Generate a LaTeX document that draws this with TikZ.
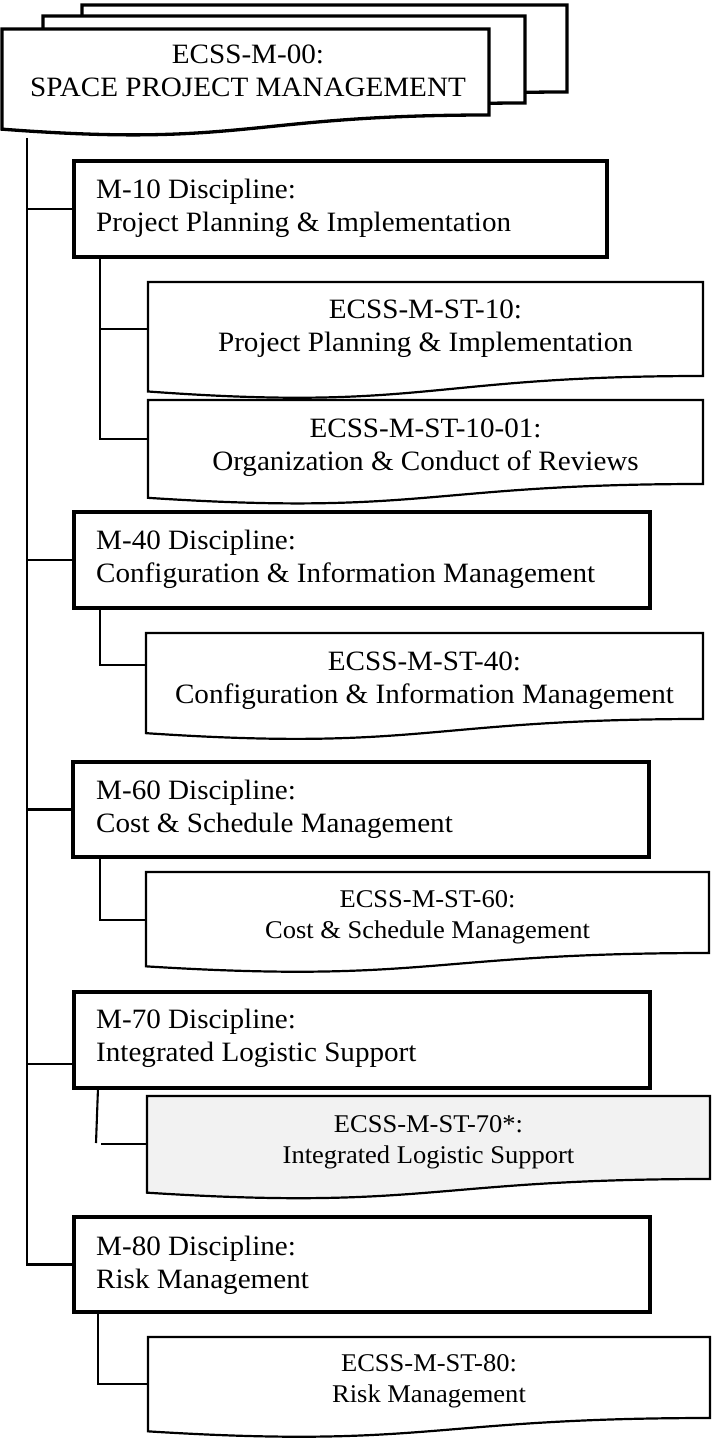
\documentclass[tikz,border=0pt]{standalone}
\usepackage{fontspec}
\setmainfont{Liberation Serif}[FakeStretch=1.04]
\usetikzlibrary{calc}
\newcommand{\docshape}[3]{%
  \path[#3] (#1.north west) -- (#1.north east) -- (#1.south east)
    .. controls (#1.south) and ($(#1.south)+(0,{0.381*#2})$)
    .. ($(#1.south west)+(0,{0.1646*#2})$) -- cycle;}
\newcommand{\fl}[1]{\rule{0pt}{#1pt}}
\tikzset{
  mbox/.style={draw, line width=3.3pt, fill=white, inner sep=0pt, outer sep=0pt, anchor=north west},
  dshape/.style={inner sep=0pt, outer sep=0pt, anchor=north west},
  docline/.style={draw, line width=2.2pt, line join=miter, fill=white},
  topline/.style={draw, line width=3.3pt, line join=miter, fill=white},
  conn/.style={draw, line width=2.1pt},
  bigtxt/.style={inner sep=0pt, font=\fontsize{28}{33}\selectfont},
  smalltxt/.style={inner sep=0pt, font=\fontsize{25.5}{31}\selectfont},
}
\begin{document}
\begin{tikzpicture}[x=1pt,y=-1pt]
\useasboundingbox (0,0) rectangle (712,1439);
% ---- top stacked document ----
\node[dshape, minimum width=485, minimum height=87] (back) at (82,5) {};
\node[dshape, minimum width=482, minimum height=87] (mid) at (43,16) {};
\node[dshape, minimum width=487, minimum height=86] (top) at (2,29) {};
\docshape{back}{87}{topline}
\docshape{mid}{87}{topline}
\docshape{top}{86}{topline}
\node[bigtxt, align=center, anchor=north] (toptxt) at (248,29) {\fl{34}ECSS-M-00:\\SPACE PROJECT MANAGEMENT};
% ---- trunk ----
\coordinate (tstart) at (27,138);
% discipline boxes
\node[mbox, minimum width=533, minimum height=96] (m10) at (74,161) {};
\node[mbox, minimum width=576, minimum height=96] (m40) at (74,512) {};
\node[mbox, minimum width=576, minimum height=95] (m60) at (73,762) {};
\node[mbox, minimum width=576, minimum height=96] (m70) at (74,992) {};
\node[mbox, minimum width=576, minimum height=95] (m80) at (74,1217) {};
% standard boxes
\node[dshape, minimum width=555, minimum height=94] (st10) at (148,282) {};
\node[dshape, minimum width=555, minimum height=84] (st10b) at (148,400) {};
\node[dshape, minimum width=557, minimum height=86] (st40) at (146,633) {};
\node[dshape, minimum width=563, minimum height=81] (st60) at (146,872) {};
\node[dshape, minimum width=563, minimum height=83] (st70) at (147,1096) {};
\node[dshape, minimum width=562, minimum height=81] (st80) at (148,1337) {};
% connectors
\draw[conn] (tstart) |- (m80.west);
\draw[conn] (tstart |- m10.west) -- (m10.west);
\draw[conn] (tstart |- m40.west) -- (m40.west);
\draw[conn] (tstart |- m60.west) -- (m60.west);
\draw[conn] (tstart |- 0,1064) -- (m70.west |- 0,1064);
\draw[conn] (m10.south -| 100,0) |- (st10b.west |- 0,439);
\draw[conn] (st10.west -| 100,0) -- (st10.west);
\draw[conn] (m40.south -| 100,0) |- (st40.west |- 0,665);
\draw[conn] (m60.south -| 100,0) |- (st60.west |- 0,920);
\coordinate (m70a) at (96,1143);
\coordinate (m70b) at (101,1144);
\draw[conn] (m70.south -| 98,0) -- (m70a);
\draw[conn] (m70b) -- (st70.west |- m70b);
\draw[conn] (m80.south -| 98,0) |- (st80.west |- 0,1384);
% redraw discipline boxes on top of connector ends
\node[mbox, minimum width=533, minimum height=96] at (74,161) {};
\node[mbox, minimum width=576, minimum height=96] at (74,512) {};
\node[mbox, minimum width=576, minimum height=95] at (73,762) {};
\node[mbox, minimum width=576, minimum height=96] at (74,992) {};
\node[mbox, minimum width=576, minimum height=95] at (74,1217) {};
% document shapes
\docshape{st10}{94}{docline}
\docshape{st10b}{84}{docline}
\docshape{st40}{86}{docline}
\docshape{st60}{81}{docline}
\docshape{st70}{83}{docline, fill=gray!10}
\docshape{st80}{81}{docline}
% texts
\node[bigtxt, align=left, anchor=north west] (m10t) at (96,161) {\fl{37}M-10 Discipline:\\Project Planning \& Implementation};
\node[bigtxt, align=left, anchor=north west] (m40t) at (96,512) {\fl{37}M-40 Discipline:\\Configuration \& Information Management};
\node[bigtxt, align=left, anchor=north west] (m60t) at (96,762) {\fl{37}M-60 Discipline:\\Cost \& Schedule Management};
\node[bigtxt, align=left, anchor=north west] (m70t) at (96,992) {\fl{36}M-70 Discipline:\\Integrated Logistic Support};
\node[bigtxt, align=left, anchor=north west] (m80t) at (96,1217) {\fl{38}M-80 Discipline:\\Risk Management};
\node[bigtxt, align=center, anchor=north] (st10t) at (st10.north) {\fl{36}ECSS-M-ST-10:\\Project Planning \& Implementation};
\node[bigtxt, align=center, anchor=north] (st10bt) at (st10b.north) {\fl{37}ECSS-M-ST-10-01:\\Organization \& Conduct of Reviews};
\node[bigtxt, align=center, anchor=north] (st40t) at (st40.north) {\fl{37}ECSS-M-ST-40:\\Configuration \& Information Management};
\node[smalltxt, align=center, anchor=north] (st60t) at (st60.north) {\fl{35}ECSS-M-ST-60:\\Cost \& Schedule Management};
\node[smalltxt, align=center, anchor=north] (st70t) at (st70.north) {\fl{36}ECSS-M-ST-70*:\\Integrated Logistic Support};
\node[smalltxt, align=center, anchor=north] (st80t) at (st80.north) {\fl{34}ECSS-M-ST-80:\\Risk Management};
\end{tikzpicture}
\end{document}
